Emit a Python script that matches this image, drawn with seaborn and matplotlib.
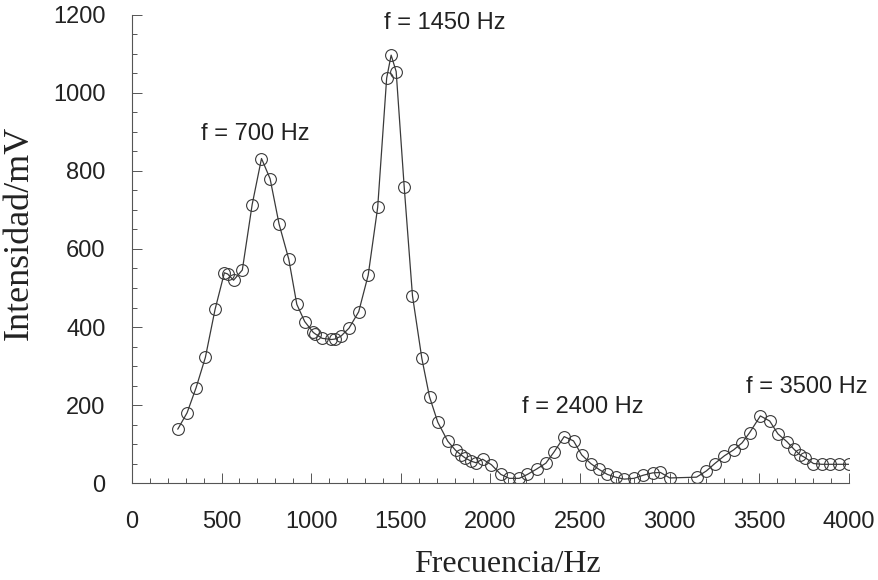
import numpy as np
import pandas as pd
import matplotlib
matplotlib.use("Agg")
import matplotlib.pyplot as plt
import seaborn as sns
from matplotlib.ticker import MultipleLocator

freq = [256, 308, 358, 410, 464, 516, 534, 567, 616, 671, 723, 771, 821, 875,
        920, 964, 1012, 1024, 1061, 1113, 1131, 1165, 1211, 1265, 1318, 1371,
        1421, 1446, 1474, 1519, 1565, 1617, 1660, 1706, 1762, 1805, 1836, 1860,
        1892, 1919, 1956, 2005, 2058, 2105, 2160, 2206, 2258, 2309, 2355, 2411,
        2463, 2509, 2559, 2605, 2652, 2698, 2746, 2800, 2852, 2904, 2948, 3000,
        3149, 3204, 3251, 3305, 3356, 3403, 3445, 3505, 3557, 3603, 3653, 3694,
        3727, 3755, 3801, 3848, 3894, 3946, 4000]
intens = [138, 180, 244, 322, 445, 539, 536, 520, 546, 714, 832, 780, 664, 574,
          458, 414, 386, 382, 371, 368, 369, 376, 397, 439, 533, 707,
          1038, 1097, 1055, 758, 480, 320, 221, 156, 107, 84, 72, 64,
          56, 52, 61, 47, 22, 12, 12, 22, 36, 51, 80, 119,
          108, 72, 50, 35, 22, 15, 10, 12, 20, 26, 27, 13,
          15, 31, 50, 70, 85, 103, 129, 172, 159, 126, 106, 86,
          72, 65, 50, 48, 48, 48, 48]

peak_labels = ["f = 700 Hz", "f = 1450 Hz", "f = 2400 Hz", "f = 3500 Hz"]
label_x = [690, 1747, 2512, 3761]
label_y = [895, 1180, 195, 246]

df = pd.DataFrame({"Frecuencia": freq, "Intensidad": intens})

sns.set_style("white")
fig = plt.figure(figsize=(8.79, 5.80), dpi=100)
ax = fig.add_axes([0.150, 0.1672, 0.816, 0.807])

sns.lineplot(data=df, x="Frecuencia", y="Intensidad", ax=ax, sort=False,
             estimator=None, color="#3a3a3a", linewidth=0.9, marker="o",
             markersize=8.5, markerfacecolor="none", markeredgecolor="#3a3a3a",
             markeredgewidth=0.8)

for txt, x, y in zip(peak_labels, label_x, label_y):
    ax.text(x, y, txt, ha="center", va="center", fontsize=17,
            family="Liberation Sans", color="#222222")

ax.set_xlim(0, 4000)
ax.set_ylim(0, 1200)
ax.xaxis.set_major_locator(MultipleLocator(500))
ax.xaxis.set_minor_locator(MultipleLocator(100))
ax.yaxis.set_major_locator(MultipleLocator(200))
ax.yaxis.set_minor_locator(MultipleLocator(50))
ax.tick_params(which="both", direction="in", bottom=True, left=True,
               colors="#555555", labelcolor="#222222", width=0.7)
ax.tick_params(which="major", length=7)
ax.tick_params(which="minor", length=3.5)
ax.tick_params(axis="x", which="major", pad=20)
ax.tick_params(axis="y", which="major", pad=19)
for lab in ax.get_xticklabels() + ax.get_yticklabels():
    lab.set_fontsize(17)
    lab.set_family("Liberation Sans")

for side in ["top", "right"]:
    ax.spines[side].set_visible(False)
for side in ["left", "bottom"]:
    ax.spines[side].set_color("#555555")
    ax.spines[side].set_linewidth(0.8)

ax.set_xlabel("Frecuencia/Hz", fontsize=23, family="Liberation Serif",
              color="#222222")
ax.set_ylabel("Intensidad/mV", fontsize=26, family="Liberation Serif",
              color="#222222")
ax.xaxis.set_label_coords(0.524, -0.143)
ax.yaxis.set_label_coords(-0.1345, 0.534)

fig.savefig("out.png", dpi=100)
